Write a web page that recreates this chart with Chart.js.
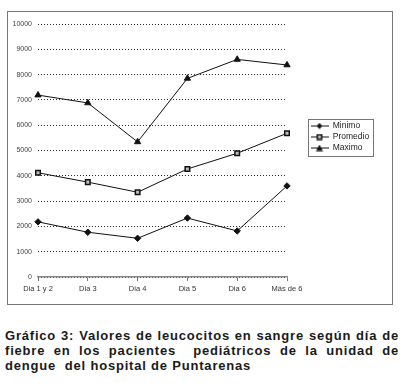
<!DOCTYPE html>
<html>
<head>
<meta charset="utf-8">
<script src="https://cdn.jsdelivr.net/npm/chart.js@4"></script>
<style>
  body { margin: 0; background: #fff; width: 404px; height: 383px; overflow: hidden; position: relative; }
  #marco { position: absolute; left: 7px; top: 11px; width: 384px; height: 292px; border: 1px solid #777; }
  #marco canvas { position: absolute; left: 0; top: 0; }
  .pie { position: absolute; left: 5px; width: 394px; font: bold 13px "Liberation Sans", Arial, sans-serif; letter-spacing: 0.8px; color: #1a1a1a; white-space: nowrap; }
  .just { text-align: justify; text-align-last: justify; }
</style>
</head>
<body>
<div id="marco"><canvas id="plot1" width="384" height="292"></canvas></div>
<div class="pie just" style="top:328px">Gráfico 3: Valores de leucocitos en sangre según día de</div>
<div class="pie just" style="top:343px">fiebre en los pacientes &nbsp;pediátricos de la unidad de</div>
<div class="pie" style="top:358px">dengue &nbsp;del hospital de Puntarenas</div>
<script>
// Datos del gráfico
let dias = ['Dia 1 y 2', 'Dia 3', 'Dia 4', 'Dia 5', 'Dia 6', 'Más de 6'];
let minimo = [2180, 1770, 1530, 2330, 1820, 3600];
let promedio = [4120, 3750, 3350, 4270, 4890, 5680];
let maximo = [7190, 6880, 5340, 7850, 8600, 8380];
let nombres = ['Minimo', 'Promedio', 'Maximo'];

Chart.defaults.font.family = '"Liberation Sans", Arial, sans-serif';
Chart.defaults.color = '#333';

// iconos de la leyenda: linea + marcador
let iconoLeyenda = (tipo) => {
    let c = document.createElement('canvas');
    c.width = 18; c.height = 7;
    let ctx = c.getContext('2d');
    ctx.strokeStyle = '#111'; ctx.lineWidth = 1;
    ctx.beginPath(); ctx.moveTo(0, 3.5); ctx.lineTo(18, 3.5); ctx.stroke();
    ctx.fillStyle = '#111';
    ctx.beginPath();
    if (tipo == 'rombo') {
        ctx.moveTo(9, 0.5); ctx.lineTo(12, 3.5); ctx.lineTo(9, 6.5); ctx.lineTo(6, 3.5); ctx.closePath(); ctx.fill();
    } else if (tipo == 'cuadro') {
        ctx.fillRect(6, 0.5, 6, 6);
        ctx.fillStyle = '#bbb'; ctx.fillRect(7.5, 2, 3, 3);
    } else {
        ctx.moveTo(9, 0); ctx.lineTo(12.5, 6.5); ctx.lineTo(5.5, 6.5); ctx.closePath(); ctx.fill();
    }
    return c;
};
let iconos = [iconoLeyenda('rombo'), iconoLeyenda('cuadro'), iconoLeyenda('triangulo')];

// leyenda fija con recuadro
let leyendaPlugin = {
    id: 'leyendaPlugin',
    beforeLayout(chart) {
        let lg = chart.legend;
        if (lg && !lg._parcheado) {
            let fitOrig = lg.fit;
            lg.fit = function () { fitOrig.call(this); this.width = 80; };
            lg._parcheado = true;
        }
    },
    afterLayout(chart) {
        let lg = chart.legend;
        lg.left = 300; lg.right = 380;
        lg.top -= 24; lg.bottom -= 24;
    },
    afterDraw(chart) {
        let cajas = chart.legend.legendHitBoxes;
        if (!cajas || !cajas.length) return;
        let x0 = Math.min(...cajas.map(b => b.left)) - 3;
        let x1 = Math.max(...cajas.map(b => b.left + b.width)) + 3;
        let y0 = Math.min(...cajas.map(b => b.top)) - 3;
        let y1 = Math.max(...cajas.map(b => b.top + b.height)) + 3;
        let ctx = chart.ctx;
        ctx.save();
        ctx.strokeStyle = '#777'; ctx.lineWidth = 1;
        ctx.strokeRect(Math.round(x0) + 0.5, Math.round(y0) + 0.5, Math.round(x1 - x0), Math.round(y1 - y0));
        ctx.restore();
    }
};

let plotRef = document.getElementById('plot1');

let config = {
    type: 'line',
    data: {
        labels: dias,
        datasets: [
            { label: nombres[0], data: minimo, pointStyle: 'rectRot', pointRadius: 3.2, backgroundColor: '#111' },
            { label: nombres[1], data: promedio, pointStyle: 'rect', pointRadius: 3.2, backgroundColor: '#bbb', pointBorderWidth: 1.5 },
            { label: nombres[2], data: maximo, pointStyle: 'triangle', pointRadius: 3.6, backgroundColor: '#111' }
        ].map(d => Object.assign({ borderColor: '#111', borderWidth: 1, pointBorderColor: '#111', tension: 0 }, d))
    },
    options: {
        responsive: false,
        animation: false,
        layout: { padding: { top: 12, right: 25, bottom: 6, left: 0 } },
        plugins: {
            title: { display: false },
            tooltip: { enabled: false },
            legend: {
                position: 'right',
                labels: {
                    usePointStyle: true,
                    pointStyleWidth: 18,
                    padding: 2.5,
                    font: { size: 8.5 },
                    color: '#222',
                    generateLabels: (chart) => {
                        let items = Chart.defaults.plugins.legend.labels.generateLabels(chart);
                        items.forEach((it, i) => { it.pointStyle = iconos[i]; });
                        return items;
                    }
                }
            }
        },
        scales: {
            x: {
                offset: false,
                grid: { display: true, drawOnChartArea: false, tickLength: 4, color: '#777' },
                border: { display: true, color: '#888', width: 1.5 },
                ticks: { font: { size: 7.5 }, padding: 3, maxRotation: 0, autoSkip: false },
                afterFit: (scale) => { scale.height = 21; }
            },
            y: {
                min: 0,
                max: 10000,
                ticks: { stepSize: 1000, font: { size: 7 }, padding: 6, color: '#444', callback: (v) => String(v) },
                grid: { color: '#333', drawTicks: false, lineWidth: 1 },
                border: { display: false, dash: [1, 2] },
                afterFit: (scale) => { scale.width = 30; }
            }
        }
    },
    plugins: [leyendaPlugin]
};

let chart1 = new Chart(plotRef, config);
</script>
</body>
</html>
